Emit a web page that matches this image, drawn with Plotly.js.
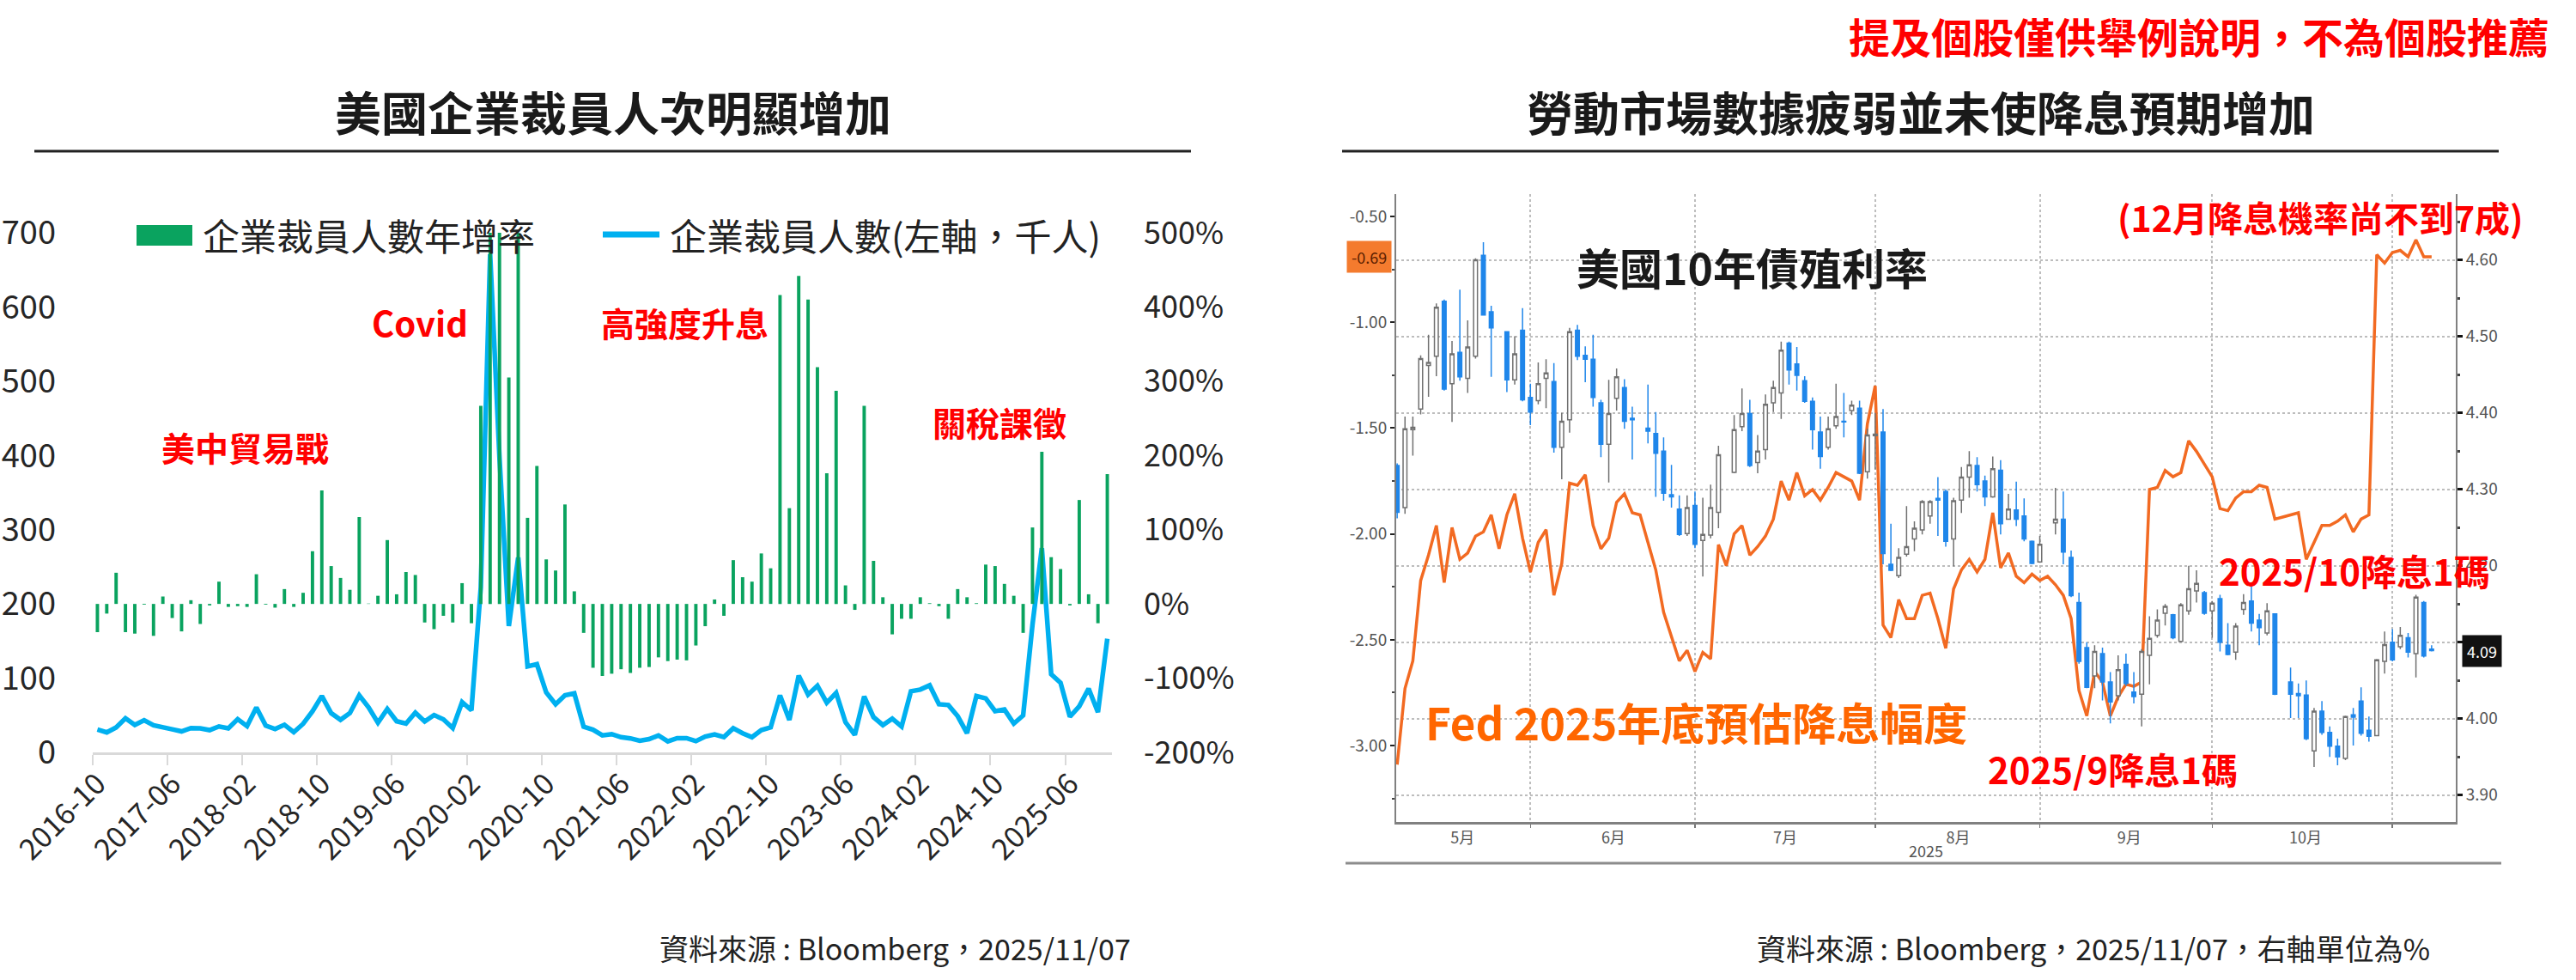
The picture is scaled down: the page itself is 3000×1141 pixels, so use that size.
<!DOCTYPE html>
<html>
<head>
<meta charset="utf-8">
<script src="https://cdn.plot.ly/plotly-3.0.1.min.js"></script>
<style>
  html, body { margin: 0; padding: 0; background: #ffffff; }
  #chart { width: 3000px; height: 1141px; }
</style>
</head>
<body>
<div id="chart"></div>
<script>
// ---- left panel: Challenger layoffs (thousands) and YoY growth (%) ----
var months = [
  "2016-10","2016-11","2016-12",
  "2017-01","2017-02","2017-03","2017-04","2017-05","2017-06","2017-07","2017-08","2017-09","2017-10","2017-11","2017-12",
  "2018-01","2018-02","2018-03","2018-04","2018-05","2018-06","2018-07","2018-08","2018-09","2018-10","2018-11","2018-12",
  "2019-01","2019-02","2019-03","2019-04","2019-05","2019-06","2019-07","2019-08","2019-09","2019-10","2019-11","2019-12",
  "2020-01","2020-02","2020-03","2020-04","2020-05","2020-06","2020-07","2020-08","2020-09","2020-10","2020-11","2020-12",
  "2021-01","2021-02","2021-03","2021-04","2021-05","2021-06","2021-07","2021-08","2021-09","2021-10","2021-11","2021-12",
  "2022-01","2022-02","2022-03","2022-04","2022-05","2022-06","2022-07","2022-08","2022-09","2022-10","2022-11","2022-12",
  "2023-01","2023-02","2023-03","2023-04","2023-05","2023-06","2023-07","2023-08","2023-09","2023-10","2023-11","2023-12",
  "2024-01","2024-02","2024-03","2024-04","2024-05","2024-06","2024-07","2024-08","2024-09","2024-10","2024-11","2024-12",
  "2025-01","2025-02","2025-03","2025-04","2025-05","2025-06","2025-07","2025-08","2025-09","2025-10"
];

var layoffs = [
  30.7, 26.9, 33.6,
  45.9, 37.0, 43.3, 36.6, 33.1, 31.1, 28.3, 32.7, 32.3, 30.0, 35.0, 32.4,
  44.7, 35.4, 60.4, 36.1, 31.5, 37.2, 27.2, 38.5, 55.3, 76.0, 52.9, 43.9,
  53.0, 76.8, 60.6, 40.0, 58.6, 42.0, 38.8, 53.5, 41.6, 50.3, 44.6, 32.8,
  67.7, 56.7, 222.3, 671.1, 397.0, 170.2, 262.6, 115.8, 118.8, 80.7, 64.8, 77.0,
  79.6, 34.5, 30.6, 22.9, 24.6, 20.5, 18.9, 15.7, 17.9, 22.8, 14.9, 19.1,
  19.1, 15.2, 21.4, 24.3, 20.7, 32.5, 25.8, 20.5, 30.0, 33.8, 76.8, 43.7,
  103.4, 77.8, 89.7, 67.0, 80.1, 40.7, 23.7, 75.2, 47.5, 36.8, 45.5, 34.8,
  82.3, 84.6, 90.3, 64.8, 63.8, 48.8, 25.9, 75.9, 72.8, 55.6, 57.7, 38.8,
  49.8, 172.0, 275.2, 105.4, 93.8, 48.0, 62.1, 86.0, 54.1, 153.1
];

var layoffsYoY = [
  -38, -13, 42,
  -38, -40, -1, -43, 10, -19, -37, 5, -27, -2, 30, -4,
  -3, -4, 40, -1, -5, 20, -4, 15, 71, 153, 51, 35,
  19, 117, 0.5, 11, 86, 13, 43, 39, -25, -34, -16, -25,
  28, -26, 267, 1577, 578, 305, 576, 116, 186, 60, 45, 134,
  17, -39, -86, -97, -94, -88, -93, -86, -85, -72, -77, -75,
  -76, -56, -30, 6, -16, 59, 36, 30, 68, 48, 416, 129,
  442, 410, 319, 176, 287, 25, -8, 267, 58, 9, -41, -20,
  -20, 9, 1, -3, -20, 20, 9, 1, 53, 51, 27, 11,
  -39, 103, 205, 63, 47, -2, 140, 13, -26, 175
];

var leftTickVals = [0, 100, 200, 300, 400, 500, 600, 700];
var leftTickText = ["0", "100", "200", "300", "400", "500", "600", "700"];
var pctTickVals = [-200, -100, 0, 100, 200, 300, 400, 500];
var pctTickText = ["-200%", "-100%", "0%", "100%", "200%", "300%", "400%", "500%"];

// ---- right panel: UST 10Y daily candles and Fed cuts priced for end-2025 ----
var days = [
  "2025-05-07","2025-05-08","2025-05-09","2025-05-12","2025-05-13","2025-05-14","2025-05-15","2025-05-16",
  "2025-05-19","2025-05-20","2025-05-21","2025-05-22","2025-05-23","2025-05-26","2025-05-27","2025-05-28",
  "2025-05-29","2025-05-30",
  "2025-06-02","2025-06-03","2025-06-04","2025-06-05","2025-06-06","2025-06-09","2025-06-10","2025-06-11",
  "2025-06-12","2025-06-13","2025-06-16","2025-06-17","2025-06-18","2025-06-19","2025-06-20","2025-06-23",
  "2025-06-24","2025-06-25","2025-06-26","2025-06-27","2025-06-30",
  "2025-07-01","2025-07-02","2025-07-03","2025-07-04","2025-07-07","2025-07-08","2025-07-09","2025-07-10",
  "2025-07-11","2025-07-14","2025-07-15","2025-07-16","2025-07-17","2025-07-18","2025-07-21","2025-07-22",
  "2025-07-23","2025-07-24","2025-07-25","2025-07-28","2025-07-29","2025-07-30","2025-07-31",
  "2025-08-01","2025-08-04","2025-08-05","2025-08-06","2025-08-07","2025-08-08","2025-08-11","2025-08-12",
  "2025-08-13","2025-08-14","2025-08-15","2025-08-18","2025-08-19","2025-08-20","2025-08-21","2025-08-22",
  "2025-08-25","2025-08-26","2025-08-27","2025-08-28","2025-08-29",
  "2025-09-01","2025-09-02","2025-09-03","2025-09-04","2025-09-05","2025-09-08","2025-09-09","2025-09-10",
  "2025-09-11","2025-09-12","2025-09-15","2025-09-16","2025-09-17","2025-09-18","2025-09-19","2025-09-22",
  "2025-09-23","2025-09-24","2025-09-25","2025-09-26","2025-09-29","2025-09-30",
  "2025-10-01","2025-10-02","2025-10-03","2025-10-06","2025-10-07","2025-10-08","2025-10-09","2025-10-10",
  "2025-10-13","2025-10-14","2025-10-15","2025-10-16","2025-10-17","2025-10-20","2025-10-21","2025-10-22",
  "2025-10-23","2025-10-24","2025-10-27","2025-10-28","2025-10-29","2025-10-30","2025-10-31",
  "2025-11-03","2025-11-04","2025-11-05","2025-11-06","2025-11-07"
];
// bond market closed, no candle drawn
var holidays = ["2025-05-26", "2025-06-19", "2025-07-04", "2025-09-01", "2025-10-13"];

var ustOpen = [
  4.331, 4.276, 4.378, 4.405, 4.462, 4.474, 4.546, 4.438, 4.479, 4.445, 4.474, 4.606, 4.532,
  4.506, 4.443, 4.508, 4.420,
  4.416, 4.445, 4.441, 4.355, 4.391, 4.508, 4.475, 4.470, 4.413, 4.359, 4.419, 4.433, 4.393,
  4.380, 4.373, 4.350, 4.293, 4.274, 4.242, 4.279,
  4.233, 4.240, 4.270,
  4.322, 4.382, 4.399, 4.335, 4.352, 4.413, 4.426, 4.491, 4.464, 4.442, 4.415, 4.375, 4.355, 4.383, 4.389, 4.403, 4.406, 4.323, 4.370,
  4.375, 4.202, 4.187, 4.215, 4.235, 4.247, 4.265, 4.288, 4.297, 4.235, 4.286, 4.316, 4.331, 4.311, 4.290, 4.325, 4.261, 4.273, 4.265, 4.232, 4.205,
  4.256, 4.261, 4.211, 4.152, 4.093, 4.056, 4.085, 4.048, 4.030, 4.071, 4.035, 4.032, 4.083, 4.109, 4.138, 4.136, 4.101, 4.141, 4.167, 4.165, 4.141,
  4.157, 4.096, 4.087, 4.143, 4.154, 4.129, 4.112, 4.137,
  4.048, 4.033, 4.031, 3.958, 4.010, 3.982, 3.964, 3.948, 4.005, 4.023, 3.985, 3.978, 4.075, 4.100,
  4.094, 4.106, 4.085, 4.152, 4.091
];
var ustHigh = [
  4.334, 4.395, 4.395, 4.475, 4.502, 4.543, 4.548, 4.494, 4.561, 4.521, 4.602, 4.623, 4.540,
  4.506, 4.500, 4.537, 4.438,
  4.466, 4.470, 4.465, 4.400, 4.511, 4.515, 4.487, 4.502, 4.417, 4.443, 4.458, 4.444, 4.408,
  4.437, 4.401, 4.368, 4.332, 4.292, 4.292, 4.297,
  4.289, 4.306, 4.357,
  4.397, 4.432, 4.417, 4.371, 4.424, 4.442, 4.493, 4.493, 4.486, 4.448, 4.420, 4.395, 4.395, 4.438, 4.426, 4.416, 4.416, 4.379, 4.400,
  4.405, 4.255, 4.223, 4.278, 4.258, 4.286, 4.286, 4.316, 4.300, 4.289, 4.329, 4.350, 4.342, 4.318, 4.343, 4.338, 4.294, 4.310, 4.288, 4.233, 4.239,
  4.302, 4.297, 4.220, 4.165, 4.100, 4.096, 4.093, 4.061, 4.083, 4.085, 4.061, 4.091, 4.134, 4.143, 4.150, 4.137, 4.151, 4.200, 4.194, 4.167, 4.154,
  4.162, 4.125, 4.125, 4.163, 4.175, 4.137, 4.151, 4.138,
  4.067, 4.046, 4.050, 4.014, 4.023, 3.990, 3.974, 4.004, 4.014, 4.041, 4.003, 4.078, 4.114, 4.117,
  4.120, 4.112, 4.162, 4.154, 4.096
];
var ustLow = [
  4.262, 4.268, 4.344, 4.398, 4.421, 4.448, 4.429, 4.388, 4.442, 4.426, 4.471, 4.527, 4.447,
  4.427, 4.437, 4.415, 4.384,
  4.411, 4.406, 4.348, 4.313, 4.374, 4.469, 4.440, 4.408, 4.342, 4.309, 4.403, 4.379, 4.339,
  4.360, 4.290, 4.285, 4.276, 4.239, 4.239, 4.223,
  4.186, 4.236, 4.249,
  4.321, 4.376, 4.329, 4.321, 4.339, 4.401, 4.392, 4.437, 4.429, 4.413, 4.352, 4.327, 4.352, 4.379, 4.368, 4.397, 4.320, 4.314, 4.326,
  4.202, 4.193, 4.184, 4.212, 4.219, 4.241, 4.255, 4.239, 4.225, 4.199, 4.269, 4.289, 4.297, 4.278, 4.289, 4.241, 4.260, 4.252, 4.232, 4.202, 4.204,
  4.241, 4.202, 4.159, 4.072, 4.040, 4.040, 4.024, 3.994, 4.024, 4.043, 4.020, 3.990, 4.045, 4.106, 4.122, 4.104, 4.100, 4.136, 4.152, 4.136, 4.106,
  4.088, 4.083, 4.077, 4.136, 4.114, 4.096, 4.109, 4.031,
  4.001, 4.001, 3.972, 3.937, 3.979, 3.950, 3.939, 3.946, 3.965, 3.978, 3.970, 3.977, 4.059, 4.075,
  4.091, 4.080, 4.054, 4.080, 4.088
];
var ustClose = [
  4.270, 4.379, 4.381, 4.471, 4.466, 4.538, 4.431, 4.477, 4.447, 4.486, 4.600, 4.528, 4.511,
  4.443, 4.477, 4.417, 4.401,
  4.438, 4.452, 4.355, 4.389, 4.506, 4.474, 4.470, 4.420, 4.359, 4.399, 4.447, 4.389, 4.391,
  4.376, 4.347, 4.295, 4.290, 4.241, 4.276, 4.228,
  4.241, 4.276, 4.345,
  4.378, 4.399, 4.331, 4.350, 4.411, 4.433, 4.482, 4.456, 4.449, 4.415, 4.378, 4.343, 4.379, 4.395, 4.388, 4.410, 4.321, 4.371, 4.372,
  4.216, 4.194, 4.211, 4.225, 4.249, 4.284, 4.284, 4.286, 4.232, 4.285, 4.316, 4.332, 4.306, 4.290, 4.327, 4.255, 4.274, 4.261, 4.235, 4.203, 4.228,
  4.261, 4.218, 4.161, 4.075, 4.041, 4.088, 4.048, 4.022, 4.064, 4.046, 4.029, 4.088, 4.105, 4.129, 4.147, 4.106, 4.149, 4.170, 4.177, 4.138, 4.151,
  4.100, 4.084, 4.121, 4.152, 4.125, 4.119, 4.141, 4.032,
  4.032, 4.030, 3.974, 4.010, 3.982, 3.964, 3.950, 4.003, 4.002, 3.981, 3.977, 4.077, 4.097, 4.077,
  4.109, 4.087, 4.159, 4.082, 4.089
];

// number of 25bp cuts priced by end of 2025 (negative = cuts), one per weekday
var fedCutsPriced = [
  -3.09, -2.73, -2.60, -2.22, -2.10, -1.96, -2.23, -1.97, -2.12, -2.09, -2.01, -1.99, -1.91, -2.07, -1.91, -1.81,
  -2.02, -2.18,
  -2.04, -1.98, -2.29, -2.14, -1.76, -1.77, -1.72, -1.96, -2.07, -2.02, -1.85, -1.81, -1.90, -1.91, -2.04, -2.17,
  -2.37, -2.48, -2.60, -2.55, -2.65,
  -2.56, -2.59, -2.05, -2.15, -2.00, -1.96, -2.10, -2.06, -2.01, -1.93, -1.75, -1.84, -1.71, -1.82, -1.79, -1.84,
  -1.78, -1.71, -1.73, -1.75, -1.84, -1.48, -1.30,
  -2.43, -2.49, -2.31, -2.40, -2.40, -2.29, -2.28, -2.40, -2.54, -2.26, -2.17, -2.12, -2.18, -2.12, -1.90, -2.16,
  -2.09, -2.20, -2.23, -2.19, -2.22,
  -2.20, -2.24, -2.29, -2.40, -2.74, -2.86, -2.65, -2.70, -2.86, -2.77, -2.71, -2.72, -2.70, -1.79, -1.78, -1.70,
  -1.73, -1.71, -1.56, -1.61, -1.67, -1.73,
  -1.88, -1.89, -1.83, -1.80, -1.80, -1.77, -1.78, -1.93, -1.92, -1.91, -1.90, -2.12, -2.04, -1.96, -1.96, -1.94,
  -1.91, -1.99, -1.93, -1.91, -0.68, -0.72, -0.67,
  -0.66, -0.69, -0.61, -0.69, -0.69
];

var monthEnds = ["2025-05-30", "2025-06-30", "2025-07-31", "2025-08-29", "2025-09-30", "2025-10-31"];
var monthLabelPos = ["2025-05-19 08:00", "2025-06-13 14:00", "2025-07-15 12:00", "2025-08-14 14:00", "2025-09-15 10:00", "2025-10-15 22:00"];
var monthLabels = ["5月", "6月", "7月", "8月", "9月", "10月"];
var cutTickVals = [-3.0, -2.5, -2.0, -1.5, -1.0, -0.5];
var cutTickText = ["-3.00", "-2.50", "-2.00", "-1.50", "-1.00", "-0.50"];
var ustTickVals = [3.9, 4.0, 4.1, 4.2, 4.3, 4.4, 4.5, 4.6];
var ustTickText = ["3.90", "4.00", "4.10", "4.20", "4.30", "4.40", "4.50", "4.60"];


function draw_chart(divid){

var W = 3000, H = 1141;
var CJK = "Noto Sans CJK TC, Noto Sans, sans-serif";
// pixel -> paper helpers
function px(x){ return x / W; }
function py(y){ return 1 - y / H; }

var candleDays = days.filter(function(d){ return holidays.indexOf(d) < 0; });

var barTrace = {
    x: months,
    y: layoffsYoY,
    type: 'bar',
    xaxis: 'x', yaxis: 'y2',
    width: 0.36,
    marker: {color: '#0aa35f'},
    name: '企業裁員人數年增率'
};
var lineTrace = {
    x: months,
    y: layoffs,
    type: 'scatter',
    mode: 'lines',
    xaxis: 'x', yaxis: 'y',
    line: {color: '#00b0f0', width: 5.5},
    name: '企業裁員人數(左軸，千人)'
};
var candleTrace = {
    x: candleDays,
    open: ustOpen, high: ustHigh, low: ustLow, close: ustClose,
    type: 'candlestick',
    xaxis: 'x2', yaxis: 'y4',
    whiskerwidth: 0,
    increasing: {line: {color: '#707070', width: 1.5}, fillcolor: '#ffffff'},
    decreasing: {line: {color: '#1f86ea', width: 1.5}, fillcolor: '#1f86ea'},
    name: '美國10年債殖利率'
};
var fedTrace = {
    x: days,
    y: fedCutsPriced,
    type: 'scatter',
    mode: 'lines',
    xaxis: 'x2', yaxis: 'y3',
    line: {color: '#f26a22', width: 3.5},
    name: 'Fed 2025年底預估降息幅度'
};

var data = [barTrace, lineTrace, candleTrace, fedTrace];

var red = '#ff0000';
function note(text, x, y, size, color, extra){
    var a = {
        text: text, xref: 'paper', yref: 'paper',
        x: px(x), y: py(y), xanchor: 'center', yanchor: 'middle',
        showarrow: false,
        font: {family: CJK, size: size, color: color}
    };
    for (var k in extra){ a[k] = extra[k]; }
    return a;
}

var annotations = [
    note('<b>美國企業裁員人次明顯增加</b>', 714, 130, 54, '#1a1a1a'),
    note('<b>勞動市場數據疲弱並未使降息預期增加</b>', 2237, 130, 54, '#1a1a1a'),
    note('<b>提及個股僅供舉例說明，不為個股推薦</b>', 2971, 41, 48, red, {xanchor: 'right'}),
    note('企業裁員人數年增率', 234, 273, 43, '#222222', {xanchor: 'left'}),
    note('企業裁員人數(左軸，千人)', 778, 273, 43, '#222222', {xanchor: 'left'}),
    note('<b>美中貿易戰</b>', 285, 520, 39, red),
    note('<b>Covid</b>', 489, 375, 40, red),
    note('<b>高強度升息</b>', 797, 375, 39, red),
    note('<b>關稅課徵</b>', 1164, 491, 39, red),
    note('資料來源 : Bloomberg，2025/11/07', 1319, 1103, 34, '#222222', {xanchor: 'right'}),
    note('<b>美國10年債殖利率</b>', 2040, 310, 50, '#1a1a1a'),
    note('<b>Fed 2025年底預估降息幅度</b>', 1975, 840, 51, '#ff6600'),
    note('<b>2025/9降息1碼</b>', 2460, 894, 42, red),
    note('<b>2025/10降息1碼</b>', 2742, 663, 42, red),
    note('<b>(12月降息機率尚不到7成)</b>', 2702, 252, 41, red),
    note('資料來源 : Bloomberg，2025/11/07，右軸單位為%', 2832, 1103, 34, '#222222', {xanchor: 'right'}),
    // last value tags on the Bloomberg axes
    {text: fedCutsPriced[fedCutsPriced.length - 1].toFixed(2), xref: 'paper', yref: 'y3',
     x: px(1595), y: fedCutsPriced[fedCutsPriced.length - 1], xanchor: 'center', yanchor: 'middle',
     showarrow: false, bgcolor: '#f47b2e', borderpad: 5,
     font: {family: CJK, size: 18, color: '#5a1e00'}},
    {text: ustClose[ustClose.length - 1].toFixed(2), xref: 'paper', yref: 'y4',
     x: px(2890), y: ustClose[ustClose.length - 1], xanchor: 'center', yanchor: 'middle',
     showarrow: false, bgcolor: '#111111', borderpad: 5,
     font: {family: CJK, size: 18, color: '#ffffff'}}
];

var shapes = [
    // title rules
    {type: 'line', xref: 'paper', yref: 'paper', x0: px(40), x1: px(1387), y0: py(176), y1: py(176),
     line: {color: '#222222', width: 3}},
    {type: 'line', xref: 'paper', yref: 'paper', x0: px(1563), x1: px(2910), y0: py(176), y1: py(176),
     line: {color: '#222222', width: 3}},
    // bottom border of the Bloomberg picture
    {type: 'line', xref: 'paper', yref: 'paper', x0: px(1567), x1: px(2913), y0: py(1005), y1: py(1005),
     line: {color: '#8c8c8c', width: 3}},
    // legend keys
    {type: 'rect', xref: 'paper', yref: 'paper', x0: px(159), x1: px(224), y0: py(286), y1: py(262),
     fillcolor: '#0aa35f', line: {width: 0}},
    {type: 'line', xref: 'paper', yref: 'paper', x0: px(702), x1: px(768), y0: py(273), y1: py(273),
     line: {color: '#00b0f0', width: 7}}
];

var tickGrey = '#555555';
var layout = {
    width: W, height: H,
    margin: {l: 0, r: 0, t: 0, b: 0},
    paper_bgcolor: '#ffffff',
    plot_bgcolor: '#ffffff',
    showlegend: false,
    font: {family: CJK, color: '#222222'},
    xaxis: {
        domain: [px(108), px(1295)],
        anchor: 'y',
        type: 'category',
        range: [-0.5, months.length - 0.5],
        tickmode: 'linear', tick0: 0, dtick: 8,
        tickson: 'boundaries',
        tickangle: -45,
        ticks: 'outside', ticklen: 12, tickwidth: 2, tickcolor: '#d9d9d9',
        showline: true, linecolor: '#d9d9d9', linewidth: 3,
        showgrid: false, zeroline: false,
        tickfont: {size: 34, color: '#262626'}
    },
    yaxis: {
        domain: [py(876), py(271)],
        anchor: 'x',
        range: [0, 700],
        tickmode: 'array', tickvals: leftTickVals, ticktext: leftTickText,
        ticks: '', ticklabelstandoff: 42,
        showgrid: false, zeroline: false, showline: false,
        tickfont: {size: 38, color: '#262626'}
    },
    yaxis2: {
        overlaying: 'y', side: 'right', anchor: 'x',
        range: [-200, 500],
        tickmode: 'array', tickvals: pctTickVals, ticktext: pctTickText,
        ticks: '', ticklabelstandoff: 36,
        showgrid: false, zeroline: false, showline: false,
        tickfont: {size: 36, color: '#262626'}
    },
    xaxis2: {
        domain: [px(1626), px(2860)],
        anchor: 'y3',
        type: 'date',
        rangebreaks: [{bounds: ['sat', 'mon']}],
        range: ['2025-05-06 21:00', '2025-11-12 02:00'],
        rangeslider: {visible: false},
        tickmode: 'array', tickvals: monthLabelPos, ticktext: monthLabels,
        ticks: '', ticklabelstandoff: 0,
        showgrid: false, zeroline: false,
        showline: true, linecolor: '#808080', linewidth: 3,
        tickfont: {size: 18, color: tickGrey},
        minor: {tickmode: 'array', tickvals: monthEnds, ticks: 'outside', ticklen: 4, tickwidth: 1.5,
                tickcolor: '#777777', showgrid: true, gridcolor: '#bdbdbd', gridwidth: 2, griddash: 'dot'},
        title: {text: '2025', font: {size: 18, color: tickGrey}, standoff: 0}
    },
    yaxis3: {
        domain: [py(957), py(226)],
        anchor: 'x2', side: 'left',
        range: [-3.361, -0.394],
        tickmode: 'array', tickvals: cutTickVals, ticktext: cutTickText,
        ticks: 'outside', ticklen: 5, tickwidth: 2, tickcolor: '#222222',
        showgrid: false, zeroline: false,
        showline: true, linecolor: '#808080', linewidth: 2,
        tickfont: {size: 19, color: tickGrey},
        minor: {dtick: 0.25, tick0: 0, ticks: 'outside', ticklen: 3, tickcolor: '#444444', showgrid: false}
    },
    yaxis4: {
        overlaying: 'y3', side: 'right', anchor: 'x2',
        range: [3.865, 4.686],
        tickmode: 'array', tickvals: ustTickVals, ticktext: ustTickText,
        ticks: 'outside', ticklen: 6, tickwidth: 3, tickcolor: '#111111',
        showgrid: true, gridcolor: '#bdbdbd', gridwidth: 2, griddash: 'dot',
        zeroline: false,
        showline: true, linecolor: '#808080', linewidth: 2,
        tickfont: {size: 19, color: tickGrey},
        minor: {dtick: 0.05, tick0: 0, ticks: 'outside', ticklen: 3, tickcolor: '#444444', showgrid: false}
    },
    annotations: annotations,
    shapes: shapes
};

Plotly.newPlot(divid, data, layout, {displayModeBar: false, staticPlot: true});
}

draw_chart('chart');
</script>
</body>
</html>
